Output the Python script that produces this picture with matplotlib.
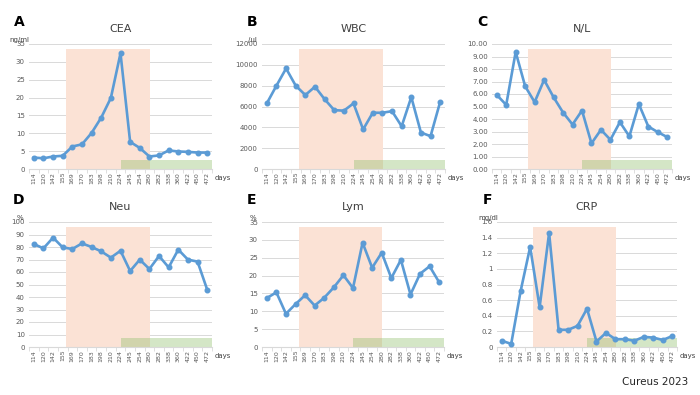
import matplotlib
matplotlib.use('Agg')
import matplotlib.pyplot as plt
import numpy as np

##############################################################################
# data
##############################################################################
days = ['114', '120', '142', '155', '169', '170', '183', '198', '210', '224',
        '245', '254', '280', '282', '338', '360', '422', '450', '472']

cea = [3.2, 3.0, 3.5, 3.7, 6.3, 6.9, 10.1, 14.4, 19.9, 32.4,
       7.6, 5.9, 3.5, 3.8, 5.2, 4.9, 4.8, 4.6, 4.6]
wbc = [6300, 8000, 9650, 8000, 7100, 7900, 6700, 5650, 5600, 6300,
       3800, 5400, 5400, 5550, 4100, 6900, 3500, 3150, 6450]
nl = [5.93, 5.13, 9.36, 6.62, 5.35, 7.13, 5.74, 4.52, 3.56, 4.68,
      2.05, 3.14, 2.34, 3.75, 2.61, 5.19, 3.40, 2.95, 2.55]
neu = [82.4, 78.9, 87.5, 79.7, 78.4, 82.9, 80.0, 76.5, 71.5, 77.0,
       60.8, 69.9, 62.4, 72.8, 63.7, 77.9, 69.9, 68.3, 45.9]
lym = [13.7, 15.3, 9.3, 12.0, 14.5, 11.6, 13.8, 16.7, 20.1, 16.5,
       29.2, 22.2, 26.4, 19.3, 24.4, 14.7, 20.5, 22.6, 18.1]
crp = [0.08, 0.04, 0.72, 1.28, 0.51, 1.46, 0.22, 0.22, 0.27, 0.49,
       0.07, 0.18, 0.10, 0.10, 0.08, 0.13, 0.12, 0.09, 0.14]

letters = ['A', 'B', 'C', 'D', 'E', 'F']
titles = ['CEA', 'WBC', 'N/L', 'Neu', 'Lym', 'CRP']
units = ['ng/ml', '/ul', '', '%', '%', 'mg/dl']
series = [cea, wbc, nl, neu, lym, crp]
y_max = [35, 12000, 10, 100, 35, 1.6]
y_step = [5, 2000, 1, 10, 5, 0.2]
y_fmt = ['{:.0f}', '{:.0f}', '{:.2f}', '{:.0f}', '{:.0f}', '{:g}']

# treatment periods, in category index units
orange_span = (3.35, 12.05)
green_span = (9.05, 18.5)

# axes boxes in pixels (left, top, width, height) on a 700x395 canvas
boxes = [(29, 44, 183, 125), (262, 44, 183, 125), (492, 44, 180, 125),
         (29, 222, 183, 125), (262, 222, 182, 125), (497, 222, 180, 125)]

W, H = 700, 395
LINE = '#5b9bd5'
GRID = '#d9d9d9'
TXT = '#595959'

fig = plt.figure(figsize=(7, 3.95), dpi=100)

x = np.arange(len(days))
for i in range(6):
    l, t, w, h = boxes[i]
    ax = fig.add_axes([l / W, 1 - (t + h) / H, w / W, h / H])

    ax.set_xlim(-0.5, len(days) - 0.5)
    ax.set_ylim(0, y_max[i])

    ticks = np.arange(0, y_max[i] + y_step[i] / 2, y_step[i])
    ax.set_yticks(ticks)
    ax.set_yticklabels([y_fmt[i].format(v) for v in ticks])
    ax.yaxis.grid(True, color=GRID, lw=0.7, zorder=0)
    ax.set_axisbelow(True)

    ax.axvspan(orange_span[0], orange_span[1], ymin=0, ymax=0.96,
               color='#fbe2d5', zorder=1, lw=0)
    ax.axvspan(green_span[0], green_span[1], ymin=0, ymax=0.07,
               color='#8fbf6a', alpha=0.38, zorder=2, lw=0)

    ax.plot(x, series[i], color=LINE, lw=1.9, marker='o', ms=3.3, zorder=3)

    ax.set_xticks(x)
    ax.set_xticklabels(days, rotation=90, fontsize=4.5, color=TXT)
    ax.set_xticks(np.arange(-0.5, len(days)), minor=True)
    ax.tick_params(axis='x', which='major', length=0, pad=2)
    ax.tick_params(axis='x', which='minor', length=3, color=GRID)
    ax.tick_params(axis='y', length=0, labelsize=5, labelcolor=TXT, pad=3)

    for s in ['top', 'right', 'left']:
        ax.spines[s].set_visible(False)
    ax.spines['bottom'].set_color(GRID)

    ax.set_title(titles[i], fontsize=8, color='#404040', y=1.03)
    ax.text(-0.055, 1.12, letters[i], transform=ax.transAxes,
            fontsize=10, fontweight='bold', ha='center', va='bottom')
    if units[i]:
        ax.text(-0.05, 1.01, units[i], transform=ax.transAxes,
                fontsize=5, color='#404040', ha='center', va='bottom')
    ax.text(1.015, -0.07, 'days', transform=ax.transAxes,
            fontsize=5, color='#404040', ha='left', va='center')

fig.text(655 / W, 1 - 382 / H, 'Cureus 2023', fontsize=7.5,
         color='#262626', ha='center', va='center')

fig.savefig('out.png', dpi=100)
